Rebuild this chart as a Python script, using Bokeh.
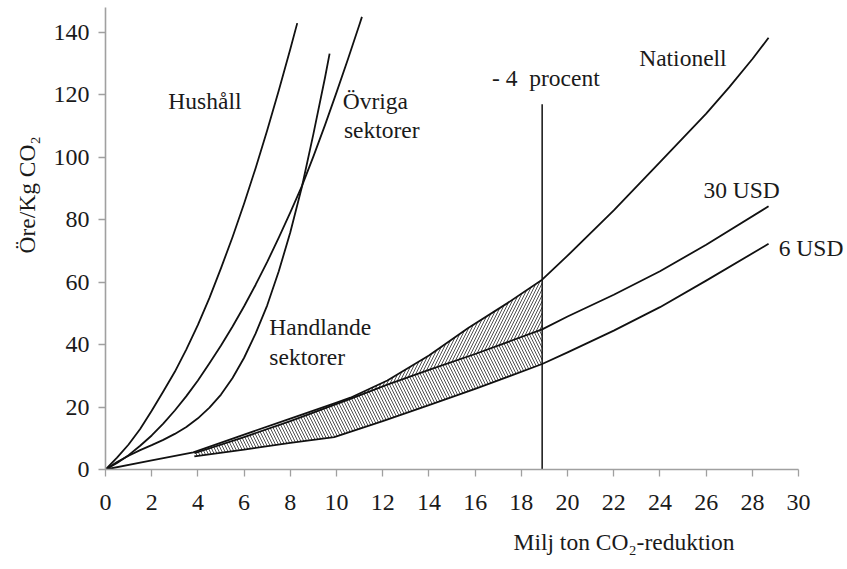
import numpy as np
from bokeh.plotting import figure
from bokeh.models import Label, FixedTicker, Title
from bokeh.embed import file_html
from bokeh.resources import INLINE

# ---- data ----
x_ticks = [0, 2, 4, 6, 8, 10, 12, 14, 16, 18, 20, 22, 24, 26, 28, 30]
y_ticks = [0, 20, 40, 60, 80, 100, 120, 140]

hushall_x = [0, 0.5, 1, 1.5, 2, 2.5, 3, 3.5, 4, 4.5, 5, 5.5, 6, 6.5, 7, 7.5, 8, 8.3]
hushall_y = [0, 3.8, 8.0, 13.0, 18.8, 25.0, 31.3, 38.5, 46.3, 55.0, 64.5, 74.5, 85.2, 96.6, 108.7, 121.4, 134.7, 143.0]

ovriga_x = [0, 0.5, 1, 1.5, 2, 2.5, 3, 3.5, 4, 4.5, 5, 5.5, 6, 6.5, 7, 7.5, 8, 8.5, 9, 9.5, 10, 10.5, 11, 11.1]
ovriga_y = [0, 2.1, 4.6, 7.6, 10.9, 14.7, 18.9, 23.5, 28.5, 34.0, 39.7, 45.8, 52.3, 59.2, 66.5, 74.3, 82.4, 90.8, 100.3, 110.3, 120.8, 131.6, 142.7, 145.0]

handl_x = [0, 0.5, 1, 1.5, 2, 2.5, 3, 3.5, 4, 4.5, 5, 5.5, 6, 6.5, 7, 7.5, 8, 8.5, 9, 9.5, 9.7]
handl_y = [0, 2.4, 4.4, 6.2, 7.8, 9.5, 11.4, 13.6, 16.4, 19.8, 24.0, 29.3, 35.8, 43.6, 52.6, 63.5, 76.0, 90.5, 107.5, 125.5, 133.2]

nation_x = [0, 2, 3.8, 6, 8, 10, 10.6, 12.2, 14, 15.7, 17.4, 18.9, 20, 22, 24, 26, 27, 28, 28.7]
nation_y = [0, 2.9, 5.5, 11.2, 16.3, 21.4, 23.0, 28.5, 36.5, 45.3, 53.3, 60.8, 68.5, 83.0, 98.5, 114.0, 122.5, 131.5, 138.3]

usd30_x = [3.85, 6, 8, 10.6, 12.2, 14, 16, 18.9, 20, 22, 24, 26, 28.7]
usd30_y = [5.2, 10.4, 15.5, 22.6, 27.2, 31.9, 37.0, 44.9, 49.0, 56.0, 63.5, 72.0, 84.3]

usd6_x = [3.85, 6, 8, 9.9, 12, 14, 16, 18.9, 20, 22, 24, 26, 28.7]
usd6_y = [4.2, 6.4, 8.5, 10.4, 15.5, 20.6, 25.8, 33.8, 37.5, 44.5, 52.0, 60.5, 72.3]

vline_x = 18.9
vline_top = 117.0

upper_band = (10.6, 18.9)
lower_band = (3.85, 18.9)

labels = ["Hushåll", "Övriga", "sektorer", "Handlande", "sektorer", "- 4\u00a0 procent", "Nationell", "30 USD", "6 USD"]
label_x = [2.72, 10.27, 10.32, 7.09, 7.09, 16.73, 23.1, 25.88, 29.14]
label_y = [118.2, 118.2, 108.6, 45.5, 35.9, 125.3, 131.7, 89.4, 70.8]

x_title = "Milj ton CO₂-reduktion"
y_title = "Öre/Kg CO₂"

FONT = "'Liberation Serif'"
TXT = "#1a1a1a"

p = figure(width=847, height=569, x_range=(0, 32.03), y_range=(0, 148.0),
           output_backend="svg", toolbar_location=None,
           min_border_left=104, min_border_right=2, min_border_top=7, min_border_bottom=100)
p.outline_line_color = None
p.grid.visible = False
p.background_fill_color = "white"

for ax in (p.xaxis[0], p.yaxis[0]):
    ax.axis_line_color = "#a0a0a0"
    ax.axis_line_width = 1.6
    ax.major_tick_line_color = "#a0a0a0"
    ax.major_tick_line_width = 1.3
    ax.major_tick_out = 7
    ax.major_tick_in = 0
    ax.minor_tick_line_color = None
    ax.major_label_text_font = FONT
    ax.major_label_text_font_size = "24px"
    ax.major_label_text_color = TXT
p.xaxis.ticker = FixedTicker(ticks=x_ticks)
p.yaxis.ticker = FixedTicker(ticks=y_ticks)
p.xaxis.bounds = (0, 30)
p.xaxis.major_label_standoff = 18
p.yaxis.major_label_standoff = 9

# hatched bands
xs = np.linspace(upper_band[0], upper_band[1], 80)
p.varea(x=xs, y1=np.interp(xs, usd30_x, usd30_y), y2=np.interp(xs, nation_x, nation_y),
        fill_alpha=0, hatch_pattern="/", hatch_color="#222", hatch_scale=6, hatch_weight=0.8)
xs2 = np.linspace(lower_band[0], lower_band[1], 120)
p.varea(x=xs2, y1=np.interp(xs2, usd6_x, usd6_y), y2=np.interp(xs2, usd30_x, usd30_y),
        fill_alpha=0, hatch_pattern="\\", hatch_color="#222", hatch_scale=6, hatch_weight=0.8)

LC = "#111111"
LW = 1.8
for cx, cy in [(hushall_x, hushall_y), (ovriga_x, ovriga_y), (handl_x, handl_y),
               (nation_x, nation_y), (usd30_x, usd30_y), (usd6_x, usd6_y)]:
    p.line(cx, cy, line_color=LC, line_width=LW, line_join="round")

p.line([vline_x, vline_x], [0, vline_top], line_color=LC, line_width=1.5)

for t, lx, ly in zip(labels, label_x, label_y):
    p.add_layout(Label(x=lx, y=ly, text=t, text_font=FONT, text_font_size="23.5px",
                       text_baseline="alphabetic", text_align="left", text_color=TXT))

# axis titles as panel titles (not clipped by the frame)
p.add_layout(Title(text=x_title, align="left", offset=408, standoff=29,
                   text_font=FONT, text_font_size="23.5px", text_font_style="normal",
                   text_color=TXT), "below")
p.add_layout(Title(text=y_title, align="left", offset=216, standoff=22,
                   text_font=FONT, text_font_size="23.5px", text_font_style="normal",
                   text_color=TXT), "left")

open("out.html", "w").write(file_html(p, INLINE))
